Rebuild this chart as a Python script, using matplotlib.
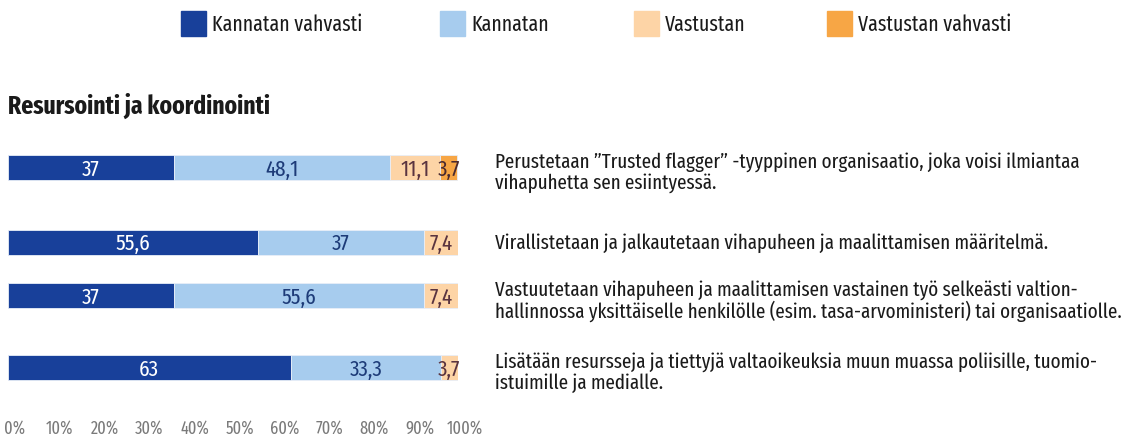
import matplotlib
matplotlib.use("Agg")
import matplotlib.pyplot as plt
from matplotlib.patches import Rectangle
import matplotlib.transforms as mtransforms

# ---- data ----
series_names = ["Kannatan vahvasti", "Kannatan", "Vastustan", "Vastustan vahvasti"]
kannatan_vahvasti = [37, 55.6, 37, 63]
kannatan = [48.1, 37, 55.6, 33.3]
vastustan = [11.1, 7.4, 7.4, 3.7]
vastustan_vahvasti = [3.7, 0, 0, 0]
statements = [
    "Perustetaan \u201dTrusted flagger\u201d -tyyppinen organisaatio, joka voisi ilmiantaa\nvihapuhetta sen esiintyessä.",
    "Virallistetaan ja jalkautetaan vihapuheen ja maalittamisen määritelmä.",
    "Vastuutetaan vihapuheen ja maalittamisen vastainen työ selkeästi valtion-\nhallinnossa yksittäiselle henkilölle (esim. tasa-arvoministeri) tai organisaatiolle.",
    "Lisätään resursseja ja tiettyjä valtaoikeuksia muun muassa poliisille, tuomio-\nistuimille ja medialle.",
]
title = "Resursointi ja koordinointi"
tick_values = [0, 10, 20, 30, 40, 50, 60, 70, 80, 90, 100]
tick_labels = [f"{v}%" for v in tick_values]

# ---- style ----
colors = ["#18409a", "#a7ccee", "#fdd4a6", "#f7a645"]
text_colors = ["white", "#1d3b78", "#5a3440", "#4a2a30"]
FAM = ["Fira Sans Extra Condensed", "Liberation Sans Narrow", "DejaVu Sans"]
plt.rcParams["font.family"] = FAM

W, H = 1122, 435
fig = plt.figure(figsize=(W / 100, H / 100), dpi=100)

# bar axes in pixel-based layout
x0_px, x1_px = 7.5, 457.5
y_top_px, y_bot_px = 140, 400
ax = fig.add_axes([x0_px / W, 1 - y_bot_px / H, (x1_px - x0_px) / W, (y_bot_px - y_top_px) / H])
ax.set_xlim(0, 100)
ax.set_ylim(y_bot_px, y_top_px)
ax.axis("off")

row_centers = [168.5, 243, 296.5, 368.5]
bar_h = 25

all_series = [kannatan_vahvasti, kannatan, vastustan, vastustan_vahvasti]
left = [0.0] * len(row_centers)
for si, vals in enumerate(all_series):
    ax.barh(row_centers, vals, left=left, height=bar_h, color=colors[si],
            edgecolor="#e8eef8", linewidth=0.6)
    for i, v in enumerate(vals):
        if v > 0:
            cx = left[i] + v / 2
            ax.text(cx, row_centers[i] + 1, f"{v:g}".replace(".", ","), ha="center", va="center",
                    fontsize=16.5, color=text_colors[si])
    left = [l + v for l, v in zip(left, vals)]

# x tick labels
offset = mtransforms.ScaledTranslation(7 / 100, 0, fig.dpi_scale_trans)
for v, lab in zip(tick_values, tick_labels):
    ax.text(v, 428, lab, ha="center", va="center", fontsize=12.8, color="#7a7a7a",
            transform=ax.transData + offset, clip_on=False)

# statements (line by line)
line_gap = 21.5
for yc, s in zip(row_centers, statements):
    lines = s.split("\n")
    first = yc - (len(lines) - 1) * 6.8
    for k, ln in enumerate(lines):
        fig.text(495 / W, 1 - (first + k * line_gap) / H, ln, ha="left", va="center",
                 fontsize=14.9, color="#1a1a1a")

# title
fig.text(8 / W, 1 - 106 / H, title, ha="left", va="center", fontsize=18.5,
         fontweight="bold", color="#1a1a1a")

# legend
leg_x = [181, 440, 634, 827]
for xp, name, c in zip(leg_x, series_names, colors):
    fig.patches.append(Rectangle((xp / W, 1 - 37 / H), 25 / W, 25 / H,
                                 transform=fig.transFigure, color=c))
    fig.text((xp + 31) / W, 1 - 25 / H, name, ha="left", va="center", fontsize=15.5,
             color="#1a1a1a")

fig.savefig("out.png", dpi=100)
